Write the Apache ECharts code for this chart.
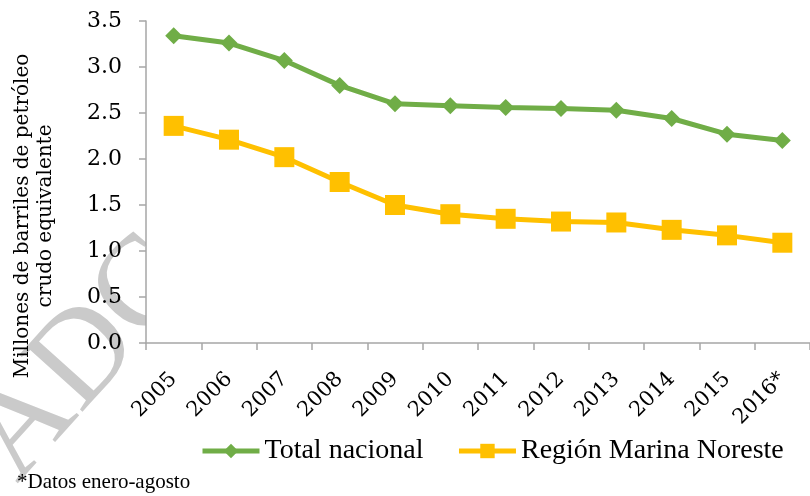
<!DOCTYPE html>
<html>
<head>
<meta charset="utf-8">
<script src="https://cdn.jsdelivr.net/npm/echarts@6/dist/echarts.min.js"></script>
<style>
  html, body { margin: 0; padding: 0; background: #fff; }
  #chart { width: 810px; height: 496px; }
</style>
</head>
<body>
<div id="chart"></div>
<script>
const years = ['2005', '2006', '2007', '2008', '2009', '2010', '2011', '2012', '2013', '2014', '2015', '2016*'];
const totalNacional = [3.34, 3.26, 3.07, 2.80, 2.60, 2.58, 2.56, 2.55, 2.53, 2.44, 2.27, 2.20];
const marinaNoreste = [2.36, 2.21, 2.02, 1.75, 1.50, 1.40, 1.35, 1.32, 1.31, 1.23, 1.17, 1.09];
const seriesNames = ['Total nacional', 'Región Marina Noreste'];
const yTitle = 'Millones de barriles de petróleo\ncrudo equivalente';
const footnote = '*Datos enero-agosto';

const chart = echarts.init(document.getElementById('chart'));
const axisGray = '#a6a6a6';
const serif = 'DejaVu Serif';
const legendFont = 'Liberation Serif';

const option = {
  animation: false,
  backgroundColor: '#fff',
  grid: {
    show: true,
    backgroundColor: '#fff',
    borderWidth: 0,
    left: 146,
    right: -11,
    top: 21,
    bottom: 153
  },
  graphic: [
    {
      // watermark, mostly hidden behind the plot area
      type: 'text',
      z: -10,
      x: 40,
      y: 505,
      rotation: 48 * Math.PI / 180,
      style: {
        text: 'ADC',
        font: '130px "Liberation Serif"',
        fill: '#cacaca',
        verticalAlign: 'bottom'
      }
    },
    {
      type: 'text',
      x: 34,
      y: 216,
      rotation: Math.PI / 2,
      style: {
        text: yTitle,
        font: '20px "DejaVu Serif"',
        fill: '#000',
        align: 'center',
        verticalAlign: 'middle',
        lineHeight: 23
      }
    },
    {
      type: 'text',
      left: 17,
      top: 472,
      style: {
        text: footnote,
        font: '21px "Liberation Serif"',
        fill: '#000'
      }
    }
  ],
  legend: {
    left: 195,
    top: 432,
    itemWidth: 57,
    itemHeight: 18,
    itemGap: 33,
    lineStyle: { width: 5 },
    textStyle: { fontFamily: legendFont, fontSize: 28, color: '#000' },
    data: seriesNames
  },
  xAxis: {
    type: 'category',
    data: years,
    boundaryGap: true,
    axisLine: { lineStyle: { color: axisGray, width: 1.5 } },
    axisTick: { show: true, length: 7, alignWithLabel: false, lineStyle: { color: axisGray, width: 1.5 } },
    axisLabel: {
      rotate: 45,
      margin: 33,
      interval: 0,
      color: '#000',
      fontFamily: serif,
      fontSize: 21
    }
  },
  yAxis: {
    type: 'value',
    min: 0,
    max: 3.5,
    interval: 0.5,
    splitLine: { show: false },
    axisLine: { show: true, lineStyle: { color: axisGray, width: 1.5 } },
    axisTick: { show: true, length: 7, lineStyle: { color: axisGray, width: 1.5 } },
    axisLabel: {
      margin: 24,
      color: '#000',
      fontFamily: serif,
      fontSize: 22,
      formatter: v => v.toFixed(1)
    }
  },
  series: [
    {
      name: seriesNames[0],
      type: 'line',
      data: totalNacional,
      symbol: 'diamond',
      symbolSize: 17,
      lineStyle: { color: '#70ad47', width: 5 },
      itemStyle: { color: '#70ad47' }
    },
    {
      name: seriesNames[1],
      type: 'line',
      data: marinaNoreste,
      symbol: 'rect',
      symbolSize: 20,
      lineStyle: { color: '#ffc000', width: 5 },
      itemStyle: { color: '#ffc000' }
    }
  ]
};

chart.setOption(option);
</script>
</body>
</html>
